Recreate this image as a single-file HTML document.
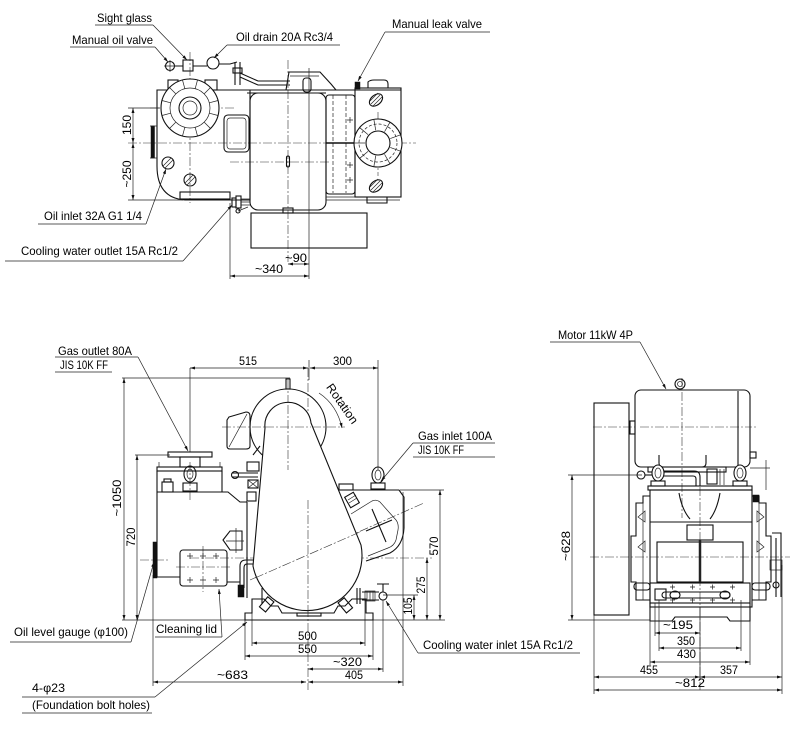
<!DOCTYPE html>
<html><head><meta charset="utf-8">
<style>
html,body{margin:0;padding:0;background:#fff;}
svg{display:block;}
text{font-family:"Liberation Sans",Arial,sans-serif;font-size:12px;fill:#000;stroke:none;}
.o{fill:none;stroke:#111;stroke-width:1.1;}
.t{fill:none;stroke:#222;stroke-width:0.7;}
.c{fill:none;stroke:#333;stroke-width:0.6;stroke-dasharray:9 2 2 2;}
.w{fill:#fff;stroke:#111;stroke-width:1.1;}
.k{fill:#111;stroke:#111;stroke-width:0.5;}
</style></head><body>
<svg width="800" height="741" viewBox="0 0 800 741" xmlns="http://www.w3.org/2000/svg">
<defs><marker id="a" viewBox="0 0 10 6" refX="10" refY="3" markerWidth="7" markerHeight="3" markerUnits="userSpaceOnUse" orient="auto-start-reverse"><path d="M0,0 L10,3 L0,6 Z" fill="#111"/></marker></defs>
<rect width="800" height="741" fill="#fff"/>

<!-- ================= TOP VIEW ================= -->
<path class="c" d="M128,143 H416 M150,108 H236 M230,162 H330 M190,52 V203 M288,60 V262 M378,112 V176"/>
<path class="o" d="M157,90 H250 V200 H185 Q157,198 157,166 Z"/>
<rect class="o" x="180" y="192" width="50" height="7"/>
<rect class="o" x="168" y="80" width="10" height="10"/>
<rect class="o" x="205" y="80" width="12" height="10"/>
<circle class="w" cx="190" cy="108" r="29"/>
<circle class="t" cx="190" cy="108" r="20"/>
<circle class="o" cx="190" cy="108" r="11"/>
<circle class="t" cx="190" cy="108" r="7"/>
<g transform="translate(190,108)" class="t">
<path d="M20,0 H29" transform="rotate(15)"/><path d="M20,0 H29" transform="rotate(45)"/><path d="M20,0 H29" transform="rotate(75)"/><path d="M20,0 H29" transform="rotate(105)"/><path d="M20,0 H29" transform="rotate(135)"/><path d="M20,0 H29" transform="rotate(165)"/><path d="M20,0 H29" transform="rotate(195)"/><path d="M20,0 H29" transform="rotate(225)"/><path d="M20,0 H29" transform="rotate(255)"/><path d="M20,0 H29" transform="rotate(285)"/><path d="M20,0 H29" transform="rotate(315)"/><path d="M20,0 H29" transform="rotate(345)"/>
</g>
<rect class="o" x="224" y="115" width="25" height="37" rx="4"/>
<rect class="t" x="227" y="118" width="19" height="31" rx="3"/>
<rect class="k" x="151" y="126" width="3.5" height="32"/>
<path class="t" d="M150,126 H157 M150,158 H157"/>
<circle class="o" cx="168" cy="163" r="6"/><path class="t" d="M163,166 L171,158 M165,168 L173,160"/>
<circle class="o" cx="190" cy="180" r="6"/><path class="t" d="M185,183 L193,175 M187,185 L195,177"/>
<circle class="o" cx="170" cy="66" r="4.5"/><path class="t" d="M164,66 H176 M170,60 V72"/>
<rect class="o" x="183" y="60" width="10" height="11"/>
<path class="o" d="M175,66 H183 M193,66 H207"/>
<circle class="o" cx="213" cy="63" r="6"/>
<path class="o" d="M219,64 H230 L237,62 M235,62 V85 M240,62 V85 M240,73 L258,81 H290 M240,77 L258,85 H290"/>
<rect class="o" x="233" y="68" width="9" height="5"/>
<rect class="o" x="250" y="93" width="76" height="117" rx="8"/>
<rect class="o" x="286.5" y="156" width="3" height="11" rx="1.5"/>
<path class="o" d="M286,90 L289,72 H320 L331,84 L336,90"/>
<path class="t" d="M290,76 H319"/>
<rect class="o" x="303" y="78" width="8" height="14" rx="3"/>
<rect class="o" x="283" y="208" width="10" height="5"/>
<path class="o" d="M247,90 H401 M247,93 H326"/>
<rect class="o" x="326" y="95" width="29" height="99" rx="3"/>
<rect class="o" x="355" y="88" width="46" height="109"/>
<path class="t" d="M333,95 V193 M346,95 V193" stroke-dasharray="4 2"/>
<path d="M326,143 H355" stroke="#111" stroke-width="1.6"/>
<path class="t" d="M326,197 H355 M326,200 H400 M347,120 h6 M350,117 v6 M347,165 h6 M350,162 v6 M347,180 h6 M350,177 v6"/>
<path class="o" d="M368,88 V82 Q370,80 374,80 H384 Q388,80 388,84 V88 M367,197 V203 H387 V197"/>
<rect class="k" x="355" y="82" width="5" height="7"/>
<circle class="w" cx="378" cy="143" r="24"/>
<circle class="t" cx="378" cy="143" r="19" stroke-dasharray="3 2"/>
<circle class="o" cx="378" cy="143" r="12"/>
<g transform="translate(378,143)" class="t">
<path d="M13,0 H24" transform="rotate(20)"/><path d="M13,0 H24" transform="rotate(60)"/><path d="M13,0 H24" transform="rotate(100)"/><path d="M13,0 H24" transform="rotate(140)"/><path d="M13,0 H24" transform="rotate(180)"/><path d="M13,0 H24" transform="rotate(220)"/><path d="M13,0 H24" transform="rotate(260)"/><path d="M13,0 H24" transform="rotate(300)"/><path d="M13,0 H24" transform="rotate(340)"/>
</g>
<ellipse class="o" cx="376" cy="100" rx="7.5" ry="5" transform="rotate(-40 376 100)"/>
<path class="t" d="M371,104 L380,95 M373,106 L382,97 M370,101 L378,93"/>
<ellipse class="o" cx="376" cy="186" rx="7.5" ry="5" transform="rotate(-40 376 186)"/>
<path class="t" d="M371,190 L380,181 M373,192 L382,183 M370,187 L378,179"/>
<rect class="o" x="251" y="213" width="116" height="35"/>
<rect class="o" x="232" y="198" width="4" height="9"/>
<rect class="o" x="236" y="196" width="5" height="12"/>
<path class="t" d="M241,199 H250 M241,202 H250 M241,205 H250 M238,211 L248,207"/>
<circle class="o" cx="238" cy="211" r="2"/>
<path class="t" d="M230,203 V279 M309,68 V279 M128,200 H183 M128,108 H160"/>
<g marker-start="url(#a)" marker-end="url(#a)" class="t">
<path d="M230,276 H309"/><path d="M288,264 H309"/>
<path d="M133,108 V143"/><path d="M133,143 V200"/>
</g>
<text x="255" y="273" textLength="28" lengthAdjust="spacingAndGlyphs">~340</text>
<text x="285" y="262" textLength="22" lengthAdjust="spacingAndGlyphs">~90</text>
<text x="131" y="125" text-anchor="middle" transform="rotate(-90 131 125)">150</text>
<text x="131" y="174" text-anchor="middle" transform="rotate(-90 131 174)">~250</text>
<path class="t" d="M95,25 H153 M70,47 H155 M227,45 H340 M385,32 H490 M38,224 H146 M5,261 H183"/>
<g class="t" marker-end="url(#a)">
<path d="M153,25 L187,60"/><path d="M155,47 L168,62"/><path d="M227,45 L214,58"/><path d="M385,32 L358,81"/><path d="M146,224 L166,169"/><path d="M183,261 L232,205"/>
</g>
<text x="97" y="22" textLength="55" lengthAdjust="spacingAndGlyphs">Sight glass</text>
<text x="72" y="44" textLength="81" lengthAdjust="spacingAndGlyphs">Manual oil valve</text>
<text x="236" y="41" textLength="97" lengthAdjust="spacingAndGlyphs">Oil drain 20A Rc3/4</text>
<text x="392" y="28" textLength="90" lengthAdjust="spacingAndGlyphs">Manual leak valve</text>
<text x="44" y="220" textLength="98" lengthAdjust="spacingAndGlyphs">Oil inlet 32A G1 1/4</text>
<text x="21" y="255" textLength="157" lengthAdjust="spacingAndGlyphs">Cooling water outlet 15A Rc1/2</text>

<!-- ================= FRONT VIEW ================= -->
<path class="c" d="M288,380 V470 M308,368 V690 M140,560 H170 M190,558 H432 M222,427 H345 M250,580 L424,503 M190,462 V500 M203,546 V592 M176,567 H232"/>
<path class="t" d="M122,378 H290 M135,455 H170 M122,620 H445 M190,368 V452 M309,360 V380 M378,360 V470 M400,490 H444 M383,595 H418 M153,575 V686 M403,492 V686 M245,613 V660 M252,600 V646 M365,600 V646 M373,620 V660 M383,600 V672"/>
<g marker-start="url(#a)" marker-end="url(#a)" class="t">
<path d="M190,368 H308"/><path d="M310,368 H378"/>
<path d="M124,378 V620"/><path d="M137,455 V620"/>
<path d="M440,490 V620"/><path d="M427,558 V620"/><path d="M414,595 V620"/>
<path d="M252,643 H365"/><path d="M245,656 H373"/><path d="M308,669 H383"/><path d="M308,682 H403"/><path d="M153,682 H306"/>
</g>
<rect class="o" x="157" y="467" width="65" height="4"/>
<path class="t" d="M159,462 V467 M220,462 V467"/>
<path class="o" d="M157,471 V577 H180 M222,471 V492 M157,492 H228 L240,502 H247 M247,502 V598 M227,582 H240"/>
<rect class="k" x="153" y="542" width="4" height="36"/>
<ellipse class="o" cx="190" cy="474" rx="6" ry="8"/>
<ellipse class="t" cx="190" cy="474" rx="3" ry="5"/>
<rect class="o" x="183" y="483" width="14" height="8"/>
<rect class="o" x="162" y="482" width="11" height="10"/>
<rect class="o" x="164" y="479" width="7" height="3"/>
<rect class="o" x="168" y="452" width="44" height="5"/>
<rect class="o" x="180" y="457" width="20" height="10"/>
<path class="o" d="M223,540 L230,531 H242 V550 H230 Z"/>
<path class="t" d="M236,528 V553 M226,541 H244"/>
<rect class="o" x="180" y="550" width="47" height="36" rx="3"/>
<path class="t" d="M187,556 h6 M190,553 v6 M200,556 h6 M203,553 v6 M213,556 h6 M216,553 v6 M187,580 h6 M190,577 v6 M213,580 h6 M216,577 v6 M200,580 h6"/>
<path class="o" d="M253,560 H246 Q240,560 240,566 V588 M253,564 H247 Q244,564 244,568 V588"/>
<rect class="k" x="238" y="585" width="6" height="12"/>
<path class="o" d="M229,417 L246,412 Q250,412 250,416 V446 Q250,449 246,449 H230 Q227,449 227,446 V420 Z"/>
<path class="t" d="M229,447 L247,414"/>
<path class="o" d="M232,473 H258 M232,477 H258"/>
<circle class="o" cx="235" cy="475" r="3.5"/>
<rect class="o" x="247" y="462" width="12" height="9"/>
<rect class="o" x="248" y="480" width="10" height="8"/><path class="t" d="M248,480 L258,488 M258,480 L248,488"/>
<rect class="o" x="247" y="492" width="9" height="9"/>
<path class="o" d="M253,455 L260,446"/>
<circle class="o" cx="288" cy="427" r="38"/>
<path class="w" d="M265,428 A23,23 0 0 1 311,423 L361,545 A55,55 0 1 1 253,566 Z"/>
<path class="c" d="M288,405 V470 M265,427 H311"/>
<rect class="o" x="286" y="379" width="4" height="10"/>
<path class="c" d="M308,500 V612 M255,578 L360,532"/>
<rect class="o" x="297" y="613" width="24" height="3"/>
<path class="o" d="M338,490 H399 L404,497 V528 Q403,546 390,553 L366,561"/>
<path class="t" d="M351,514 L372,501 Q376,499 380,502 L396,520 Q399,524 398,530 L396,540 Q394,546 388,548 L368,556"/>
<path class="o" d="M366,531 L392,520 M372,509 L386,542"/>
<rect class="o" x="339" y="484" width="14" height="6"/>
<rect class="o" x="347" y="494" width="10" height="12" transform="rotate(-30 352 500)"/>
<path class="t" d="M348,500 L356,495 M349,503 L357,498"/>
<ellipse class="o" cx="378" cy="475" rx="6" ry="8"/>
<ellipse class="t" cx="378" cy="475" rx="3" ry="5"/>
<rect class="o" x="371" y="483" width="14" height="6"/>
<path class="o" d="M245,620 H373 V613 H366 V599 H352 L345,606 H338 L334,613 H282 L278,606 H271 L264,599 H252 V613 H245 Z"/>
<path class="o" d="M262,588 V604 M357,588 V604 M360,588 V604"/>
<rect class="o" x="263" y="598" width="8" height="13" transform="rotate(40 267 604)"/>
<rect class="o" x="341" y="599" width="8" height="13" transform="rotate(-40 345 605)"/>
<path class="o" d="M362,592 H379 M362,600 H379"/>
<rect class="t" x="365" y="591" width="10" height="10"/>
<path class="t" d="M367,591 V601 M370,591 V601 M373,591 V601"/>
<circle class="o" cx="383" cy="596" r="4"/>
<path class="o" d="M383,592 V584 M377,584 H389"/>
<path class="t" marker-end="url(#a)" d="M319,393 Q337,405 342,428"/>
<text x="339" y="406" text-anchor="middle" transform="rotate(55 339 406)" textLength="46" lengthAdjust="spacingAndGlyphs">Rotation</text>
<text x="239" y="365" textLength="18" lengthAdjust="spacingAndGlyphs">515</text>
<text x="333" y="365" textLength="19" lengthAdjust="spacingAndGlyphs">300</text>
<text x="298" y="640" textLength="19" lengthAdjust="spacingAndGlyphs">500</text>
<text x="298" y="653" textLength="19" lengthAdjust="spacingAndGlyphs">550</text>
<text x="333" y="666" textLength="29" lengthAdjust="spacingAndGlyphs">~320</text>
<text x="345" y="679" textLength="18" lengthAdjust="spacingAndGlyphs">405</text>
<text x="217" y="679" textLength="31" lengthAdjust="spacingAndGlyphs">~683</text>
<text x="121" y="498" text-anchor="middle" transform="rotate(-90 121 498)" textLength="37" lengthAdjust="spacingAndGlyphs">~1050</text>
<text x="135" y="537" text-anchor="middle" transform="rotate(-90 135 537)" textLength="19" lengthAdjust="spacingAndGlyphs">720</text>
<text x="438" y="546" text-anchor="middle" transform="rotate(-90 438 546)" textLength="19" lengthAdjust="spacingAndGlyphs">570</text>
<text x="425" y="585" text-anchor="middle" transform="rotate(-90 425 585)" textLength="17" lengthAdjust="spacingAndGlyphs">275</text>
<text x="412" y="606" text-anchor="middle" transform="rotate(-90 412 606)" textLength="17" lengthAdjust="spacingAndGlyphs">105</text>
<path class="t" d="M55,357 H138 M55,372 H112 M413,443 H495 M413,457 H495 M10,642 H131 M155,637 H222 M22,697 H155 M22,713 H152 M418,653 H580"/>
<g class="t" marker-end="url(#a)">
<path d="M138,357 L188,451"/><path d="M413,443 L381,481"/><path d="M131,642 L154,562"/><path d="M222,637 L219,589"/><path d="M155,697 L247,622"/><path d="M418,653 L386,601"/>
</g>
<text x="58" y="355" textLength="74" lengthAdjust="spacingAndGlyphs">Gas outlet 80A</text>
<text x="60" y="369" textLength="48" lengthAdjust="spacingAndGlyphs">JIS 10K FF</text>
<text x="418" y="440" textLength="74" lengthAdjust="spacingAndGlyphs">Gas inlet 100A</text>
<text x="418" y="454" textLength="46" lengthAdjust="spacingAndGlyphs">JIS 10K FF</text>
<text x="14" y="636" textLength="114" lengthAdjust="spacingAndGlyphs">Oil level gauge (φ100)</text>
<text x="156" y="633" textLength="61" lengthAdjust="spacingAndGlyphs">Cleaning  lid</text>
<text x="32" y="692" textLength="33" lengthAdjust="spacingAndGlyphs">4-φ23</text>
<text x="32" y="709" textLength="118" lengthAdjust="spacingAndGlyphs">(Foundation bolt holes)</text>
<text x="423" y="649" textLength="150" lengthAdjust="spacingAndGlyphs">Cooling water inlet 15A Rc1/2</text>

<!-- ================= SIDE VIEW ================= -->
<path class="c" d="M593,427 H757 M682,378 V518 M700,487 V690 M590,557 H790"/>
<rect class="o" x="594" y="403" width="35" height="212"/>
<rect class="w" x="635" y="390" width="115" height="77" rx="6"/>
<path class="c" d="M640,427 H750 M682,392 V466"/>
<path class="o" d="M738,391 V466"/>
<rect class="o" x="630" y="421" width="5" height="13"/>
<circle class="o" cx="680" cy="384" r="5"/><circle class="t" cx="680" cy="384" r="2.5"/>
<path class="o" d="M659,455 V463 Q659,467 663,467 H672 M706,455 V463 Q706,467 702,467 H693"/>
<rect class="o" x="648" y="467" width="78" height="5"/>
<rect class="o" x="750" y="452" width="6" height="6"/>
<circle class="o" cx="641" cy="475" r="4"/><path class="o" d="M645,475 H652"/>
<ellipse class="w" cx="658" cy="473" rx="6" ry="8"/><ellipse class="t" cx="658" cy="473" rx="3" ry="5"/>
<rect class="o" x="651" y="481" width="14" height="5"/>
<ellipse class="w" cx="740" cy="473" rx="6" ry="8"/><ellipse class="t" cx="740" cy="473" rx="3" ry="5"/>
<rect class="o" x="733" y="481" width="14" height="5"/>
<path class="o" d="M664,471 H694 Q700,471 700,477 V486 M664,476 H693 Q696,476 696,479 V486"/>
<rect class="o" x="707" y="469" width="10" height="15"/>
<path class="t" d="M720,469 V485 M724,469 V485"/>
<rect class="o" x="648" y="486" width="104" height="4"/>
<rect class="o" x="650" y="490" width="102" height="117"/>
<path class="o" d="M679,493 Q682,510 690,519 M720,493 Q717,510 710,519 M650,522 H752"/>
<rect class="o" x="687" y="525" width="26" height="15"/>
<rect class="o" x="657" y="542" width="86" height="40"/>
<path d="M700,540 V582" stroke="#222" stroke-width="2.5"/>
<path class="o" d="M650,496 H643 V503 H636 V536 H631 V582 H636 V600 H650"/>
<path class="o" d="M752,496 H759 V503 H766 V536 H771 V582 H766 V600 H752"/>
<path class="t" d="M643,503 V600 M759,503 V600 M638,517 L645,511 V522 Z M638,547 L645,541 V552 Z M764,517 L757,511 V522 Z M764,547 L757,541 V552 Z"/>
<rect class="k" x="753" y="495" width="6" height="7"/>
<path class="o" d="M772,533 H781 V597 M776,538 V597"/>
<rect class="t" x="770" y="560" width="12" height="10"/>
<circle class="o" cx="776" cy="585" r="3"/>
<rect class="o" x="650" y="583" width="100" height="20"/>
<path class="o" d="M650,603 V621 H672 L675,617 H727 L730,621 H750 V603"/>
<path class="t" d="M670,587 h5 M672.5,584.5 v5 M690,587 h5 M692.5,584.5 v5 M710,587 h5 M712.5,584.5 v5 M730,587 h5 M732.5,584.5 v5 M670,600 h5 M672.5,597.5 v5 M690,600 h5 M692.5,597.5 v5 M710,600 h5 M712.5,597.5 v5 M730,600 h5 M732.5,597.5 v5"/>
<rect class="o" x="662" y="592" width="68" height="6" rx="3"/>
<rect class="o" x="655" y="589" width="11" height="11"/>
<ellipse class="o" cx="675" cy="595" rx="5" ry="4"/>
<ellipse class="o" cx="725" cy="595" rx="5" ry="4"/>
<rect class="o" x="634" y="583" width="16" height="7" rx="3"/>
<rect class="o" x="752" y="583" width="18" height="7" rx="3"/>
<path class="t" d="M568,475 H642 M568,620 H650 M594,615 V694 M782,565 V694 M700,607 V680 M655,603 V636 M659,600 V651 M741,600 V651 M650,621 V665 M750,621 V665 M766,460 V490 M750,468 H770"/>
<g marker-start="url(#a)" marker-end="url(#a)" class="t">
<path d="M572,475 V620"/><path d="M655,633 H700"/><path d="M659,648 H741"/><path d="M650,662 H750"/><path d="M594,677 H700"/><path d="M700,677 H782"/><path d="M594,690 H782"/>
</g>
<text x="570" y="546" text-anchor="middle" transform="rotate(-90 570 546)" textLength="30" lengthAdjust="spacingAndGlyphs">~628</text>
<text x="663" y="629" textLength="30" lengthAdjust="spacingAndGlyphs">~195</text>
<text x="677" y="645" textLength="18" lengthAdjust="spacingAndGlyphs">350</text>
<text x="677" y="658" textLength="19" lengthAdjust="spacingAndGlyphs">430</text>
<text x="640" y="674" textLength="18" lengthAdjust="spacingAndGlyphs">455</text>
<text x="720" y="674" textLength="18" lengthAdjust="spacingAndGlyphs">357</text>
<text x="675" y="687" textLength="30" lengthAdjust="spacingAndGlyphs">~812</text>
<path class="t" d="M550,342 H640"/>
<path class="t" marker-end="url(#a)" d="M640,342 L666,389"/>
<text x="558" y="339" textLength="75" lengthAdjust="spacingAndGlyphs">Motor 11kW 4P</text>
</svg>
</body></html>
